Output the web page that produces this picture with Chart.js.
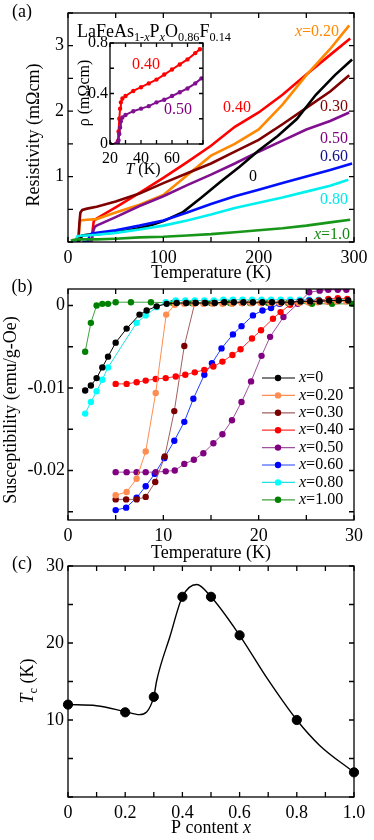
<!DOCTYPE html>
<html>
<head>
<meta charset="utf-8">
<script src="https://cdn.jsdelivr.net/npm/chart.js@4.4.1/dist/chart.umd.min.js"></script>
<style>
  body { margin: 0; background: #fff; width: 374px; height: 840px; position: relative; overflow: hidden; }
  canvas { position: absolute; }
</style>
</head>
<body>
<canvas id="ca" width="374" height="285" style="left:0;top:0"></canvas>
<canvas id="cin" width="140" height="150" style="left:70px;top:30px"></canvas>
<canvas id="cb" width="374" height="295" style="left:0;top:270px"></canvas>
<canvas id="cc" width="374" height="300" style="left:0;top:540px"></canvas>
<script>
const FONT = 'Liberation Serif';

// ---- (a) resistivity vs temperature
const aT_0 = [5, 10, 12, 15, 20, 30, 40, 50, 60, 70, 80, 90, 100, 120, 140, 160, 180, 200, 220, 240, 260, 280, 298];
const aR_0 = [0, 0, 0.02, 0.1, 0.11, 0.12, 0.13, 0.15, 0.17, 0.2, 0.23, 0.27, 0.32, 0.45, 0.68, 0.92, 1.15, 1.4, 1.62, 1.88, 2.25, 2.55, 2.79];
const aT_20 = [5, 10, 11, 12, 13, 20, 30, 40, 50, 75, 100, 125, 150, 175, 200, 225, 250, 275, 295];
const aR_20 = [0, 0, 0.05, 0.25, 0.33, 0.34, 0.35, 0.4, 0.45, 0.57, 0.72, 1.02, 1.32, 1.5, 1.72, 2.1, 2.55, 2.95, 3.31];
const aT_30 = [5, 10, 11, 12, 13, 15, 20, 30, 50, 75, 100, 125, 150, 175, 200, 225, 250, 275, 295];
const aR_30 = [0, 0, 0.05, 0.3, 0.45, 0.49, 0.51, 0.54, 0.62, 0.74, 0.9, 1.05, 1.2, 1.38, 1.56, 1.8, 2.05, 2.3, 2.55];
const aT_40 = [20, 24, 25, 26, 27, 30, 50, 75, 100, 125, 150, 175, 200, 225, 250, 275, 296];
const aR_40 = [0, 0, 0.05, 0.2, 0.32, 0.36, 0.53, 0.75, 0.98, 1.22, 1.47, 1.76, 1.98, 2.25, 2.56, 2.86, 3.11];
const aT_50 = [20, 24, 25, 26, 28, 30, 50, 75, 100, 125, 150, 175, 200, 225, 250, 275, 295];
const aR_50 = [0, 0, 0.02, 0.15, 0.23, 0.25, 0.38, 0.55, 0.7, 0.87, 1.03, 1.2, 1.38, 1.55, 1.72, 1.85, 1.98];
const aT_60 = [15, 20, 21, 22, 25, 30, 50, 75, 100, 125, 150, 175, 200, 225, 250, 275, 298];
const aR_60 = [0, 0, 0.03, 0.1, 0.13, 0.14, 0.18, 0.25, 0.33, 0.45, 0.58, 0.7, 0.8, 0.9, 1.0, 1.1, 1.2];
const aT_80 = [5, 7, 8, 9, 10, 15, 20, 30, 50, 75, 100, 125, 150, 175, 200, 225, 250, 275, 294];
const aR_80 = [0, 0, 0.02, 0.06, 0.09, 0.1, 0.1, 0.11, 0.14, 0.19, 0.25, 0.33, 0.42, 0.52, 0.6, 0.68, 0.77, 0.86, 0.95];
const aT_100 = [3, 5, 10, 20, 30, 50, 75, 100, 125, 150, 175, 200, 225, 250, 275, 296];
const aR_100 = [0.02, 0.03, 0.04, 0.04, 0.04, 0.05, 0.07, 0.08, 0.1, 0.12, 0.15, 0.18, 0.21, 0.25, 0.3, 0.34];
const aXTicks = [0, 50, 100, 150, 200, 250, 300];
const aXLabels = ['0', '', '100', '', '200', '', '300'];
const aYTicks = [0, 0.5, 1, 1.5, 2, 2.5, 3, 3.5];
const aYLabels = ['', '', '1', '', '2', '', '3', ''];

// inset: low temperature part of x=0.40 and x=0.50
const iT_40 = [20, 24, 25, 25.5, 26, 26.5, 27, 28, 30, 35, 40, 45, 50, 55, 60, 65, 70, 75, 78];
const iR_40 = [0, 0, 0.02, 0.1, 0.2, 0.28, 0.33, 0.36, 0.38, 0.42, 0.45, 0.48, 0.51, 0.55, 0.59, 0.63, 0.67, 0.72, 0.75];
const iT_50 = [20, 24, 25, 25.5, 26, 26.5, 27, 28, 30, 35, 40, 45, 50, 55, 60, 65, 70, 75, 79];
const iR_50 = [0, 0, 0.01, 0.03, 0.08, 0.13, 0.18, 0.21, 0.23, 0.26, 0.28, 0.3, 0.33, 0.35, 0.38, 0.41, 0.44, 0.48, 0.52];
const iXTicks = [20, 30, 40, 50, 60, 70, 80];
const iXLabels = ['20', '', '40', '', '60', '', ''];
const iYTicks = [0, 0.2, 0.4, 0.6, 0.8];
const iYLabels = ['0', '', '0.4', '', '0.8'];

// ---- (b) susceptibility vs temperature
const bT_0 = [1.8, 2.4, 3.0, 3.6, 4.2, 5.0, 6.15, 7.5, 8.25, 9.3, 10.35, 11.4, 12.4, 13.4, 14.4, 15.4, 16.4, 17.4, 18.4, 19.4, 20.4, 21.4, 22.4, 23.4, 24.4, 25.4, 26.4, 27.4, 28.4, 29.4];
const bX_0 = [-0.0103, -0.0097, -0.0088, -0.0075, -0.0062, -0.0045, -0.0028, -0.0011, -0.0006, -0.0001, 0.0002, 0.0003, 0.0003, 0.0003, 0.0003, 0.0003, 0.0004, 0.0004, 0.0004, 0.0004, 0.0004, 0.0004, 0.0004, 0.0004, 0.0005, 0.0005, 0.0005, 0.0006, 0.0006, 0.0006];
const bT_20 = [5.0, 6.15, 7.2, 8.15, 9.2, 10.3, 11.2, 12.2, 13.2, 14.2, 15.2, 16.2, 17.2, 18.2, 19.2, 20.2, 21.2, 22.2, 23.2, 24.2, 25.2, 26.2, 27.2, 28.2, 29.2];
const bX_20 = [-0.0230, -0.0226, -0.0210, -0.0177, -0.0106, -0.0011, 0.0001, 0.0002, 0.0002, 0.0002, 0.0002, 0.0002, 0.0002, 0.0003, 0.0003, 0.0003, 0.0003, 0.0003, 0.0003, 0.0003, 0.0004, 0.0004, 0.0005, 0.0005, 0.0005];
const bT_30 = [5.0, 6.1, 7.2, 8.15, 9.15, 10.15, 11.15, 12.2, 13.3, 14.3, 15.3, 16.3, 17.3, 18.3, 19.3, 20.3, 21.3, 22.3, 23.3, 24.3, 25.3, 26.3, 27.3, 28.3, 29.3];
const bX_30 = [-0.0235, -0.0235, -0.0235, -0.0232, -0.0214, -0.0183, -0.0128, -0.0049, 0.0003, 0.0003, 0.0003, 0.0003, 0.0003, 0.0003, 0.0003, 0.0003, 0.0003, 0.0003, 0.0003, 0.0004, 0.0004, 0.0005, 0.0005, 0.0006, 0.0006];
const bT_40 = [5.0, 6.15, 7.2, 8.15, 9.2, 10.25, 11.3, 12.3, 13.3, 14.3, 15.25, 16.2, 17.25, 18.1, 19.3, 20.25, 21.5, 22.3, 23.3, 24.3, 25.3, 26.3, 27.3, 28.3, 29.3];
const bX_40 = [-0.0095, -0.0095, -0.0093, -0.0091, -0.0089, -0.0088, -0.0086, -0.0084, -0.0081, -0.0078, -0.0074, -0.0068, -0.0060, -0.0053, -0.0040, -0.0030, -0.0016, -0.0008, 0.0001, 0.0004, 0.0005, 0.0006, 0.0008, 0.0009, 0.0008];
const bT_50 = [5.0, 6.15, 7.2, 8.15, 9.2, 10.25, 11.2, 12.2, 13.2, 14.2, 15.25, 16.2, 17.2, 18.2, 19.2, 20.3, 21.2, 22.6, 24.1, 25.3, 26.4, 27.3, 28.3, 29.2];
const bX_50 = [-0.0202, -0.0202, -0.0202, -0.0202, -0.0202, -0.0201, -0.0200, -0.0192, -0.0187, -0.0179, -0.0167, -0.0156, -0.0139, -0.0117, -0.0092, -0.0061, -0.0038, -0.0014, 0.0002, 0.0016, 0.0018, 0.0019, 0.0019, 0.0019];
const bT_60 = [5.0, 6.1, 7.2, 8.15, 9.1, 10.1, 11.15, 12.2, 13.15, 14.3, 15.1, 16.1, 17.3, 18.2, 19.4, 20.4, 21.3, 22.2, 23.3, 24.3, 25.3, 26.3, 27.3, 28.3, 29.3];
const bX_60 = [-0.0248, -0.0245, -0.0233, -0.0219, -0.0204, -0.0185, -0.0164, -0.0141, -0.0113, -0.0084, -0.0070, -0.0052, -0.0035, -0.0025, -0.0012, -0.0006, -0.0003, 0.0002, 0.0004, 0.0005, 0.0006, 0.0006, 0.0006, 0.0006, 0.0006];
const bT_80 = [1.8, 2.4, 3.0, 3.6, 4.2, 7.2, 8.15, 9.3, 10.25, 11.3, 12.3, 13.3, 14.3, 15.3, 16.3, 17.3, 18.3, 19.3, 20.3, 21.3, 22.3, 23.3, 24.3, 25.3, 26.3, 27.3, 28.3, 29.3];
const bX_80 = [-0.0131, -0.0117, -0.0104, -0.0090, -0.0075, -0.0021, -0.0012, -0.0002, 0.0004, 0.0006, 0.0006, 0.0006, 0.0006, 0.0006, 0.0007, 0.0007, 0.0007, 0.0007, 0.0007, 0.0007, 0.0007, 0.0007, 0.0007, 0.0007, 0.0007, 0.0007, 0.0007, 0.0007];
const bT_100 = [1.8, 2.4, 3.0, 3.6, 4.2, 5.0, 6.6, 8.7, 11, 13, 15, 17, 19.1, 21, 23.1, 25.6, 27.7, 29.8];
const bX_100 = [-0.0056, -0.0021, 0, 0.0002, 0.0002, 0.0004, 0.0004, 0.0004, 0.0003, 0.0003, 0.0003, 0.0003, 0.0003, 0.0003, 0.0003, 0.0002, 0.0002, 0.0002];
const bNames = ['0', '0.20', '0.30', '0.40', '0.50', '0.60', '0.80', '1.00'];
const bXTicks = [0, 5, 10, 15, 20, 25, 30];
const bXLabels = ['0', '', '10', '', '20', '', '30'];
const bYTicks = [-0.025, -0.02, -0.015, -0.01, -0.005, 0];
const bYLabels = ['', '-0.02', '', '-0.01', '', '0'];

// ---- (c) Tc vs P content
const cX = [0, 0.2, 0.3, 0.4, 0.5, 0.6, 0.8, 1.0];
const cTc = [12, 11, 13, 26, 26, 21, 10, 3.2];
const cCurveX = [0, 0.1, 0.2, 0.25, 0.3, 0.31, 0.357, 0.4, 0.45, 0.5, 0.6, 0.7, 0.8, 0.88, 1.0];
const cCurveTc = [12, 11.85, 11.1, 10.7, 13, 15.1, 20.9, 26, 27.6, 26, 21, 15.2, 10, 6.7, 3.2];
const cXTicks = [0, 0.1, 0.2, 0.3, 0.4, 0.5, 0.6, 0.7, 0.8, 0.9, 1.0];
const cXLabels = ['0', '', '0.2', '', '0.4', '', '0.6', '', '0.8', '', '1.0'];
const cYTicks = [0, 5, 10, 15, 20, 25, 30];
const cYLabels = ['', '', '10', '', '20', '', '30'];

const pts = (xs, ys) => xs.map((x, i) => ({ x: x, y: ys[i] }));

// draws text made of pieces: [text, flags], flags 'i' italic, 's' subscript
function rich(ctx, parts, x, y, size, align, color) {
  const fontOf = f => (f.indexOf('i') >= 0 ? 'italic ' : '') + (f.indexOf('s') >= 0 ? size * 0.68 : size) + 'px "' + FONT + '"';
  let w = 0;
  parts.forEach(p => { ctx.font = fontOf(p[1] || ''); w += ctx.measureText(p[0]).width; });
  let cx = align === 'center' ? x - w / 2 : (align === 'right' ? x - w : x);
  ctx.fillStyle = color || '#000';
  ctx.textBaseline = 'middle';
  ctx.textAlign = 'left';
  parts.forEach(p => {
    const f = p[1] || '';
    ctx.font = fontOf(f);
    ctx.fillText(p[0], cx, f.indexOf('s') >= 0 ? y + size * 0.32 : y);
    cx += ctx.measureText(p[0]).width;
  });
}

function richUp(ctx, parts, x, y, size, color) {
  ctx.save();
  ctx.translate(x, y);
  ctx.rotate(-Math.PI / 2);
  rich(ctx, parts, 0, 0, size, 'center', color);
  ctx.restore();
}

// frame with inward ticks on all four sides
function boxPlugin(len, white) {
  return {
    id: 'box',
    beforeDatasetsDraw(chart) {
      if (!white) return;
      const a = chart.chartArea;
      chart.ctx.save();
      chart.ctx.fillStyle = '#fff';
      chart.ctx.fillRect(a.left, a.top, a.right - a.left, a.bottom - a.top);
      chart.ctx.restore();
    },
    afterDraw(chart) {
      const { ctx, chartArea: a, scales } = chart;
      ctx.save();
      ctx.strokeStyle = '#000';
      ctx.lineWidth = 1.3;
      ctx.strokeRect(a.left, a.top, a.right - a.left, a.bottom - a.top);
      ctx.beginPath();
      scales.x.ticks.forEach(t => {
        const p = scales.x.getPixelForValue(t.value);
        ctx.moveTo(p, a.bottom); ctx.lineTo(p, a.bottom - len);
        ctx.moveTo(p, a.top); ctx.lineTo(p, a.top + len);
      });
      scales.y.ticks.forEach(t => {
        const p = scales.y.getPixelForValue(t.value);
        ctx.moveTo(a.left, p); ctx.lineTo(a.left + len, p);
        ctx.moveTo(a.right, p); ctx.lineTo(a.right - len, p);
      });
      ctx.stroke();
      ctx.restore();
    }
  };
}

function notes(fn) {
  return { id: 'notes', afterDraw(chart) { chart.ctx.save(); fn(chart.ctx, chart); chart.ctx.restore(); } };
}

function xAxis(min, max, vals, labels, h, fs) {
  return {
    type: 'linear', min: min, max: max,
    afterBuildTicks: s => { s.ticks = vals.map(v => ({ value: v })); },
    afterFit: s => { s.height = h; s.paddingLeft = 0; s.paddingRight = 0; },
    grid: { display: false, drawTicks: false },
    border: { display: false },
    ticks: { autoSkip: false, maxRotation: 0, padding: 5, color: '#000', font: { family: FONT, size: fs },
      callback: (v, i) => labels[i] }
  };
}

function yAxis(min, max, vals, labels, w, fs, pad) {
  return {
    type: 'linear', min: min, max: max,
    afterBuildTicks: s => { s.ticks = vals.map(v => ({ value: v })); },
    afterFit: s => { s.width = w; s.paddingTop = 0; s.paddingBottom = 0; },
    grid: { display: false, drawTicks: false },
    border: { display: false },
    ticks: { autoSkip: false, padding: pad, color: '#000', font: { family: FONT, size: fs },
      callback: (v, i) => labels[i] }
  };
}

function baseOptions(top, right, xs, ys) {
  return {
    responsive: false, animation: false, devicePixelRatio: 1,
    layout: { padding: { top: top, right: right, left: 0, bottom: 0 } },
    plugins: { legend: { display: false }, tooltip: { enabled: false } },
    scales: { x: xs, y: ys }
  };
}

// ---- chart (a)
const aSeries = [
  [aT_100, aR_100, '#17961a'], [aT_80, aR_80, '#00f0f0'], [aT_60, aR_60, '#0010ff'],
  [aT_0, aR_0, '#000000'], [aT_50, aR_50, '#80108f'], [aT_30, aR_30, '#800000'],
  [aT_20, aR_20, '#ff8800'], [aT_40, aR_40, '#ff0000']
];
new Chart(document.getElementById('ca'), {
  type: 'line',
  data: { datasets: aSeries.map(s => ({ data: pts(s[0], s[1]), borderColor: s[2], borderWidth: 2.6, pointRadius: 0, fill: false })) },
  options: baseOptions(13, 20, xAxis(0, 300, aXTicks, aXLabels, 43, 18), yAxis(0, 3.5, aYTicks, aYLabels, 68, 18, 4)),
  plugins: [boxPlugin(5), notes(ctx => {
    rich(ctx, [['(a)']], 22, 12, 18, 'center');
    richUp(ctx, [['Resistivity (m\u03a9cm)']], 34, 135, 18);
    rich(ctx, [['Temperature (K)']], 211, 273, 18, 'center');
    rich(ctx, [['LaFeAs'], ['1-', 's'], ['x', 'si'], ['P'], ['x', 'si'], ['O'], ['0.86', 's'], ['F'], ['0.14', 's']], 77, 32, 18, 'left');
    rich(ctx, [['x', 'i'], ['=0.20']], 317, 32, 16, 'center', '#ff8800');
    rich(ctx, [['0.40']], 237, 108, 16, 'center', '#ff0000');
    rich(ctx, [['0.30']], 334, 107, 16, 'center', '#800000');
    rich(ctx, [['0.50']], 334, 139, 16, 'center', '#800080');
    rich(ctx, [['0.60']], 334, 157, 16, 'center', '#101090');
    rich(ctx, [['0']], 253, 177, 16, 'center', '#000');
    rich(ctx, [['0.80']], 334, 200, 16, 'center', '#00e8f0');
    rich(ctx, [['x', 'i'], ['=1.0']], 332, 235, 16, 'center', '#118811');
  })]
});

// ---- inset
new Chart(document.getElementById('cin'), {
  type: 'line',
  data: { datasets: [
    { data: pts(iT_50, iR_50), borderColor: '#80108f', backgroundColor: '#80108f', borderWidth: 2, pointRadius: 1.2, fill: false },
    { data: pts(iT_40, iR_40), borderColor: '#ff0000', backgroundColor: '#ff0000', borderWidth: 2, pointRadius: 1.2, fill: false }
  ] },
  options: baseOptions(13, 7, xAxis(20, 80, iXTicks, iXLabels, 36, 16), yAxis(0, 0.8, iYTicks, iYLabels, 40, 16, 2)),
  plugins: [boxPlugin(4, true), notes(ctx => {
    richUp(ctx, [['\u03c1 (m\u03a9cm)']], 15, 63, 16);
    rich(ctx, [['T', 'i'], [' (K)']], 73, 140, 16, 'center');
    rich(ctx, [['0.40']], 76, 35, 16, 'center', '#ff0000');
    rich(ctx, [['0.50']], 108, 80, 16, 'center', '#800080');
  })]
});

// ---- chart (b)
const bSeries = [
  [bT_0, bX_0, '#000000', '#000000'], [bT_20, bX_20, '#ff8c50', '#ff8c50'], [bT_30, bX_30, '#7a0000', '#a06060'],
  [bT_40, bX_40, '#ff0000', '#ff3030'], [bT_50, bX_50, '#800080', '#a050a0'], [bT_60, bX_60, '#0000ff', '#2040ff'],
  [bT_80, bX_80, '#00ffff', '#20e0e0'], [bT_100, bX_100, '#008000', '#40a040']
];
new Chart(document.getElementById('cb'), {
  type: 'line',
  data: { datasets: bSeries.map(s => ({ data: pts(s[0], s[1]), borderColor: s[3], borderWidth: 1, pointRadius: 3.2,
    pointBackgroundColor: s[2], pointBorderColor: s[2], pointBorderWidth: 0, fill: false })) },
  options: baseOptions(19, 20, xAxis(0, 30, bXTicks, bXLabels, 45, 18), yAxis(-0.026, 0.002, bYTicks, bYLabels, 68, 18, 3)),
  plugins: [boxPlugin(5), notes(ctx => {
    rich(ctx, [['(b)']], 22, 17, 18, 'center');
    richUp(ctx, [['Susceptibility (emu/g-Oe)']], 11, 140, 18);
    rich(ctx, [['Temperature (K)']], 211, 283, 18, 'center');
    bNames.forEach((n, i) => {
      const y = 108 + i * 17.4;
      ctx.strokeStyle = bSeries[i][3];
      ctx.lineWidth = 1.2;
      ctx.beginPath(); ctx.moveTo(262, y); ctx.lineTo(295, y); ctx.stroke();
      ctx.fillStyle = bSeries[i][2];
      ctx.beginPath(); ctx.arc(278, y, 3.2, 0, Math.PI * 2); ctx.fill();
      rich(ctx, [['x', 'i'], ['=' + n]], 299, y, 16, 'left');
    });
  })]
});

// ---- chart (c)
new Chart(document.getElementById('cc'), {
  type: 'line',
  data: { datasets: [
    { data: pts(cCurveX, cCurveTc), borderColor: '#000', borderWidth: 1.4, pointRadius: 0, fill: false, cubicInterpolationMode: 'monotone' },
    { data: pts(cX, cTc), showLine: false, pointRadius: 4.6, pointBackgroundColor: '#000', pointBorderColor: '#000', clip: false }
  ] },
  options: baseOptions(26, 20, xAxis(0, 1, cXTicks, cXLabels, 43, 18), yAxis(0, 30, cYTicks, cYLabels, 68, 18, 4)),
  plugins: [boxPlugin(5), notes(ctx => {
    rich(ctx, [['(c)']], 22, 24, 18, 'center');
    richUp(ctx, [['T', 'i'], ['c', 's'], [' (K)']], 28, 141, 18);
    rich(ctx, [['P content '], ['x', 'i']], 211, 288, 18, 'center');
  })]
});
</script>
</body>
</html>
